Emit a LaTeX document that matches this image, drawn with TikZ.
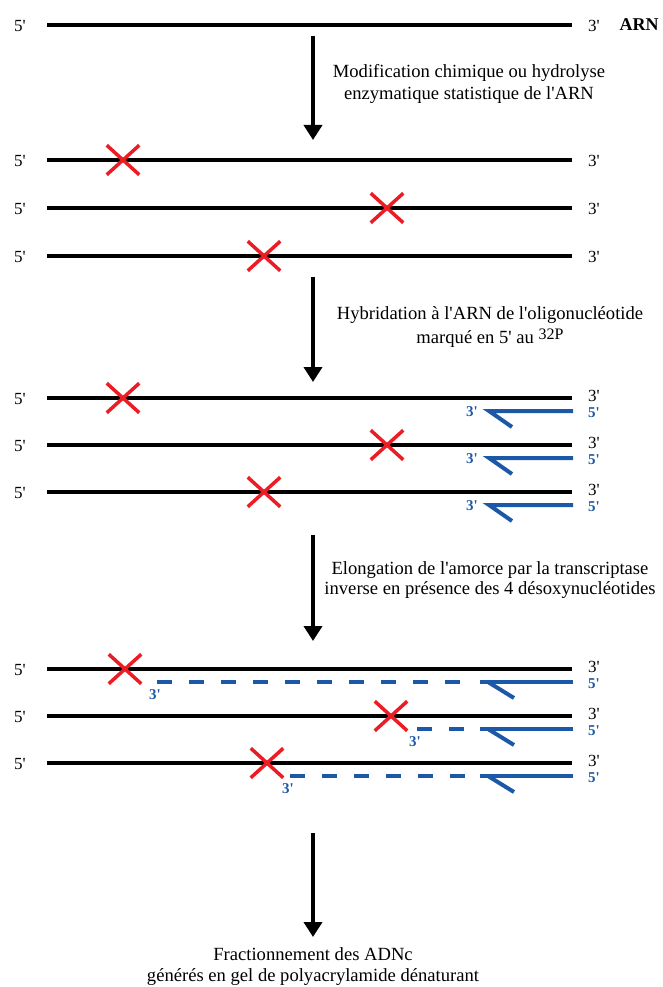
\documentclass[tikz,border=0pt]{standalone}
\usepackage{fontspec}
\setmainfont{Liberation Serif}[Ligatures=TeXOff]
\usetikzlibrary{arrows.meta,shapes.misc}
\definecolor{primerblue}{RGB}{28,88,168}
\definecolor{cutred}{RGB}{235,28,36}

\begin{document}
\begin{tikzpicture}[x=1pt, y=-1pt,
    strand/.style={line width=4pt},
    cut/.style={cross out, draw=cutred, line width=3.5pt, minimum width=29pt, minimum height=26pt, inner sep=0pt},
    primer/.style={draw=primerblue, line width=4pt},
    ext/.style={primer, dash pattern=on 15pt off 17pt},
    tag/.style={font=\fontsize{17}{17}\selectfont, inner sep=0pt},
    btag/.style={tag, font=\fontsize{15}{15}\selectfont\bfseries, text=primerblue},
    flow/.style={line width=4pt, -{Triangle[width=18pt, length=15pt]}},
    note/.style={font=\fontsize{18.6}{22}\selectfont, align=center}
]
\useasboundingbox (0,0) rectangle (663,987);

% intact RNA
\coordinate (a0) at (47,25);
\coordinate (b0) at (572,25);
\draw[strand] (a0) -- (b0);
\node[tag] (l0) at (20,26) {5'};
\node[tag] (r0) at (594,26) {3'};
\node[tag, font=\fontsize{18}{18}\selectfont\bfseries] (arn) at (639,25) {ARN};

\coordinate (f1a) at (313,36);
\coordinate (f1b) at (313,140);
\draw[flow] (f1a) -- (f1b);
\node[note] (n1) at (469,84) {Modification chimique ou hydrolyse\\enzymatique statistique de l'ARN};

% modified RNAs
\foreach \y/\c [count=\i] in {160/123, 208/387, 256/264}{
  \coordinate (a1\i) at (47,\y);
  \coordinate (b1\i) at (572,\y);
  \draw[strand] (a1\i) -- (b1\i);
  \node[tag] (l1\i) at (20,\y+1) {5'};
  \node[tag] (r1\i) at (594,\y+1) {3'};
  \node[cut] (x1\i) at (\c,\y) {};
}

\coordinate (f2a) at (313,277);
\coordinate (f2b) at (313,382);
\draw[flow] (f2a) -- (f2b);
\node[note, font=\fontsize{18.6}{24}\selectfont] (n2) at (490,327) {Hybridation à l'ARN de l'oligonucléotide\\marqué en 5' au {\fontsize{16}{16}\selectfont\raisebox{4pt}{32P}}};

% hybridised primer
\foreach \y/\c [count=\i] in {398/123, 445/387, 492/264}{
  \coordinate (a2\i) at (47,\y);
  \coordinate (b2\i) at (572,\y);
  \draw[strand] (a2\i) -- (b2\i);
  \node[tag] (l2\i) at (20,\y+1) {5'};
  \node[tag] (r2\i) at (594,\y-2) {3'};
  \node[cut] (x2\i) at (\c,\y) {};
  \coordinate (p2\i) at (573,\y+13);
  \coordinate (q2\i) at (489,\y+13);
  \coordinate (h2\i) at (512,\y+29);
  \draw[primer] (p2\i) -- (q2\i) -- (h2\i);
  \node[btag] (u2\i) at (594,\y+15) {5'};
  \node[btag] (v2\i) at (472,\y+14) {3'};
}

\coordinate (f3a) at (313,535);
\coordinate (f3b) at (313,641);
\draw[flow] (f3a) -- (f3b);
\node[note, font=\fontsize{18.6}{20}\selectfont] (n3) at (490,580) {Elongation de l'amorce par la transcriptase\\inverse en présence des 4 désoxynucléotides};

% extended cDNAs
\foreach \y/\c/\d [count=\i] in {669/125/157, 716/391/417, 763/267/290}{
  \coordinate (a3\i) at (47,\y);
  \coordinate (b3\i) at (572,\y);
  \draw[strand] (a3\i) -- (b3\i);
  \node[tag] (l3\i) at (20,\y+1) {5'};
  \node[tag] (r3\i) at (594,\y-2) {3'};
  \node[cut] (x3\i) at (\c,\y) {};
  \coordinate (s3\i) at (\d,\y+13);
  \coordinate (m3\i) at (472,\y+13);
  \coordinate (p3\i) at (573,\y+13);
  \coordinate (q3\i) at (480,\y+13);
  \coordinate (k3\i) at (488,\y+13);
  \coordinate (h3\i) at (514,\y+29);
  \draw[ext] (s3\i) -- (m3\i);
  \draw[primer] (p3\i) -- (q3\i);
  \draw[primer] (k3\i) -- (h3\i);
  \node[btag] (u3\i) at (594,\y+15) {5'};
  \node[btag] (v3\i) at (\d-2,\y+26) {3'};
}

\coordinate (f4a) at (313,833);
\coordinate (f4b) at (313,937);
\draw[flow] (f4a) -- (f4b);
\node[note, font=\fontsize{18.6}{21}\selectfont] (n4) at (313,967) {Fractionnement des ADNc\\générés en gel de polyacrylamide dénaturant};
\end{tikzpicture}
\end{document}
